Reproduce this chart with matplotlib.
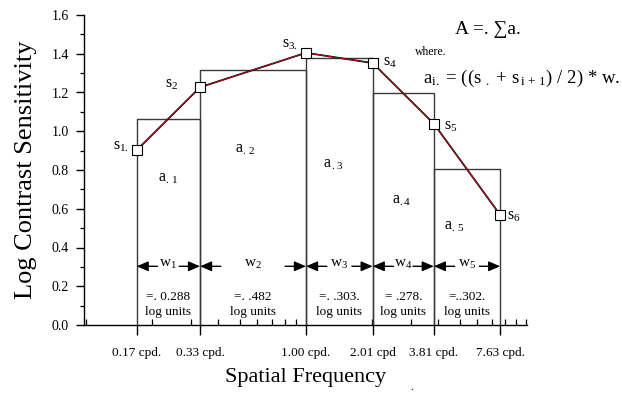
import matplotlib
matplotlib.use("Agg")
import matplotlib.pyplot as plt
from matplotlib.ticker import FixedLocator, FixedFormatter, LogLocator, NullFormatter, MultipleLocator

plt.rcParams['font.family'] = ['Liberation Serif', 'DejaVu Serif']
plt.rcParams['mathtext.fontset'] = 'custom'
plt.rcParams['mathtext.rm'] = 'Liberation Serif'
plt.rcParams['mathtext.it'] = 'Liberation Serif'
plt.rcParams['mathtext.default'] = 'regular'

# Data
freqs = [0.17, 0.33, 1.00, 2.01, 3.81, 7.63]
freq_labels = ["0.17 cpd.", "0.33 cpd.", "1.00 cpd.", "2.01 cpd", "3.81 cpd.", "7.63 cpd."]
sens = [0.902, 1.227, 1.405, 1.352, 1.039, 0.568]
point_labels = ["s$_{1.}$", "s$_2$", "s$_{3.}$", "s$_4$", "s$_5$", "s$_6$"]
rect_heights = [1.065, 1.316, 1.379, 1.196, 0.804]
area_labels = ["a$_{.\\,1}$", "a$_{.\\,2}$", "a$_{\\,.3}$", "a$_{.4}$", "a$_{.\\,5}$"]
width_labels = ["w$_1$", "w$_2$", "w$_3$", "w$_4$", "w$_5$"]
width_values = ["=. 0.288", "=. .482", "=. .303.", "= .278.", "=..302."]

fig = plt.figure(figsize=(6.22, 3.97), dpi=100)
ax = fig.add_axes([84/622, 72/397, 443/622, 310/397])
ax.set_xscale('log')
ax.set_xlim(0.098, 10.1)
ax.set_ylim(0, 1.6)

edge = '#3a3a3a'
# rectangles
for i, h in enumerate(rect_heights):
    x0, x1 = freqs[i], freqs[i+1]
    ax.plot([x0, x0, x1, x1], [0, h, h, 0], color=edge, lw=1.0, zorder=2)

# data line
ax.plot(freqs, sens, color='black', lw=1.3, zorder=3, solid_capstyle='butt')
ax.plot(freqs, sens, color='#c8141e', lw=0.6, zorder=4)
ax.plot(freqs, sens, ls='none', marker='s', ms=7, mfc='white', mec='black', mew=0.8, zorder=5)

# point labels (offsets in pixels)
pl_off = [(-8, 4), (-22, 3), (-8, 9), (10, 1), (10, -2), (7, -1)]
for x, y, t, (dx, dy) in zip(freqs, sens, point_labels, pl_off):
    ax.annotate(t, (x, y), xytext=(dx*0.72, dy*0.72), textcoords='offset points',
                fontsize=11.5, va='center', ha='left' if dx > 0 else 'right', zorder=6)

# area labels
area_pos = [(0.236, 0.76), (0.53, 0.91), (1.33, 0.83), (2.72, 0.645), (4.7, 0.51)]
for (x, y), t in zip(area_pos, area_labels):
    ax.text(x, y, t, fontsize=11.5, ha='center', va='center')

# width arrows
for i in range(5):
    x0, x1 = freqs[i], freqs[i+1]
    xc = (x0 * x1) ** 0.5
    y = 0.303
    L = 15
    ax.annotate('', xy=(x0, y), xytext=(L, 0), textcoords='offset points',
                arrowprops=dict(arrowstyle='-|>,head_length=0.7,head_width=0.3', color='black', lw=1.0,
                                shrinkA=0, shrinkB=0))
    ax.annotate('', xy=(x1, y), xytext=(-L, 0), textcoords='offset points',
                arrowprops=dict(arrowstyle='-|>,head_length=0.7,head_width=0.3', color='black', lw=1.0,
                                shrinkA=0, shrinkB=0))
    ax.text(xc, y + 0.008, width_labels[i], fontsize=11, ha='center', va='center')
    ax.text(xc, 0.143, width_values[i], fontsize=9.5, ha='center', va='center')
    ax.text(xc, 0.068, "log units", fontsize=9.5, ha='center', va='center')

# formula text
fig.text(455/622, 1 - 30/397, "A =. \u2211a.", fontsize=14, ha='left', va='center')
fig.text(415/622, 1 - 52/397, "where.", fontsize=8.5, ha='left', va='center')
fig.text(423/622, 1 - 78/397, "a$_{i.}$ = ((s $_{.}$ + s$_{\\,i\\,+\\,1}$) / 2) * w.", fontsize=13.5,
         ha='left', va='center')

# axes styling
for s in ['top', 'right']:
    ax.spines[s].set_visible(False)
ax.spines['left'].set_linewidth(1.0)
ax.spines['bottom'].set_linewidth(1.0)

ax.xaxis.set_major_locator(FixedLocator(freqs))
ax.xaxis.set_major_formatter(FixedFormatter(freq_labels))
ax.xaxis.set_minor_locator(LogLocator(base=10, subs=[1, 2, 3, 4, 5, 6, 7, 8, 9], numticks=20))
ax.xaxis.set_minor_formatter(NullFormatter())
ax.tick_params(axis='x', which='major', direction='out', length=7, width=1.0, pad=9, labelsize=9.5)
ax.tick_params(axis='x', which='minor', direction='in', length=4, width=0.9)

ax.yaxis.set_major_locator(MultipleLocator(0.2))
ax.yaxis.set_minor_locator(MultipleLocator(0.1))
ax.yaxis.set_major_formatter(matplotlib.ticker.FormatStrFormatter('%.1f'))
ax.tick_params(axis='y', which='major', direction='out', length=6, width=1.0, pad=5, labelsize=10)
ax.tick_params(axis='y', which='minor', direction='out', length=3, width=0.9)

ax.set_ylabel("Log Contrast Sensitivity", fontsize=19, labelpad=10)
ax.set_xlabel("Spatial Frequency", fontsize=16, labelpad=6)
fig.text(410/622, 1 - 390/397, ".", fontsize=8)

fig.savefig("out.png", dpi=100)
